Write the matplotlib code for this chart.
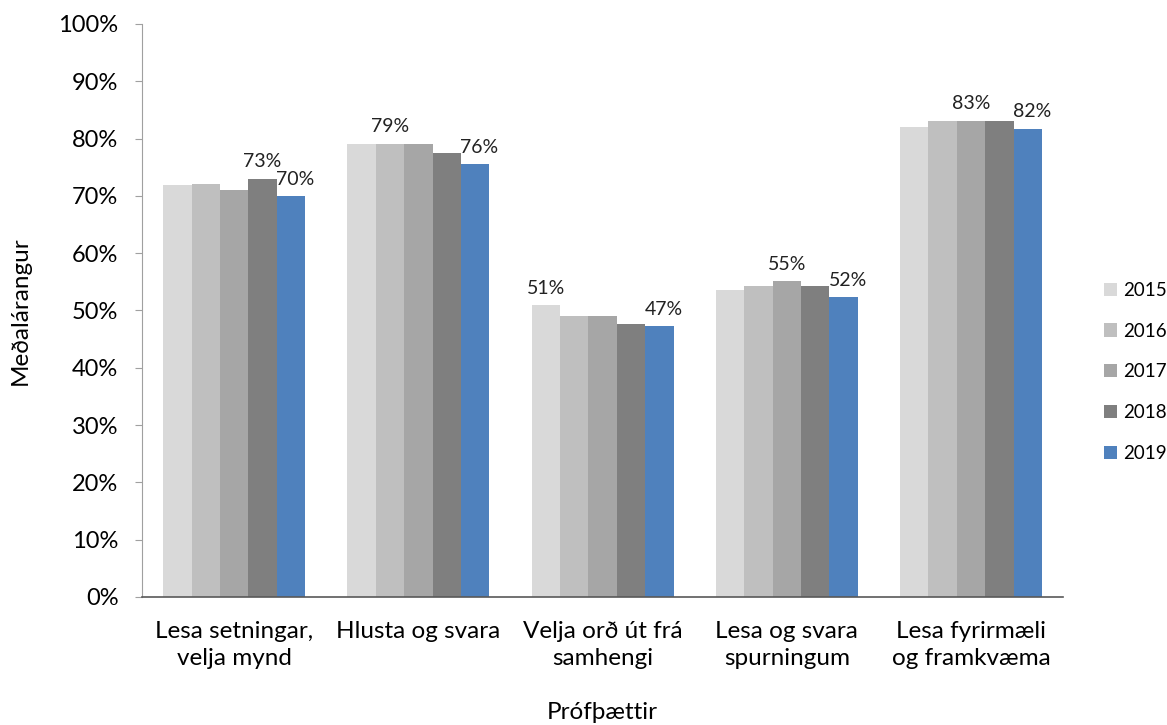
import matplotlib
matplotlib.use("Agg")
import matplotlib.pyplot as plt
import numpy as np
from matplotlib.ticker import PercentFormatter, MultipleLocator

plt.rcParams['font.family'] = ['Lato', 'DejaVu Sans']

# gögn lesin af myndinni
flokkar = ["Lesa setningar,\nvelja mynd", "Hlusta og svara", "Velja orð út frá\nsamhengi",
           "Lesa og svara\nspurningum", "Lesa fyrirmæli\nog framkvæma"]
ar = ["2015", "2016", "2017", "2018", "2019"]
v2015 = [71.9, 79.1, 50.9, 53.5, 82.0]
v2016 = [72.1, 79.1, 49.1, 54.2, 83.1]
v2017 = [71.0, 79.1, 49.1, 55.1, 83.1]
v2018 = [73.0, 77.5, 47.7, 54.2, 83.1]
v2019 = [70.0, 75.5, 47.2, 52.3, 81.7]
# (flokkur, ár) sem fá gildismerki
merki = [(0, 3), (0, 4), (1, 1), (1, 4), (2, 0), (2, 4), (3, 2), (3, 4), (4, 2), (4, 4)]

litir = ["#D9D9D9", "#BFBFBF", "#A6A6A6", "#7F7F7F", "#4F81BD"]
gildi = [v2015, v2016, v2017, v2018, v2019]

fig = plt.figure(figsize=(11.67, 7.25), dpi=100)
ax = fig.add_axes([0.1217, 0.1766, 0.911 - 0.1217, 0.967 - 0.1766])

x = np.arange(len(flokkar))
b = 0.154
stikur = []
for i, (vals, c) in enumerate(zip(gildi, litir)):
    st = ax.bar(x + (i - 2) * b, vals, b, color=c, label=ar[i])
    stikur.append(st)

for g, s in merki:
    r = stikur[s][g]
    ax.annotate(f"{gildi[s][g]:.0f}%", (r.get_x() + r.get_width() / 2, r.get_height()),
                xytext=(3 if s == 4 else 0, 6), textcoords="offset points",
                ha="center", va="bottom", fontsize=14, color="#222222")

ax.set_xlim(-0.5, 4.5)
ax.set_ylim(0, 100)
ax.yaxis.set_major_locator(MultipleLocator(10))
ax.yaxis.set_major_formatter(PercentFormatter(100, decimals=0))
ax.set_xticks(x)
ax.set_xticklabels(flokkar, fontsize=17.5, linespacing=1.35)
ax.tick_params(axis='x', length=0, pad=17)
ax.tick_params(axis='y', labelsize=17, length=5, color="#A0A0A0", pad=12)

for sp in ["top", "right"]:
    ax.spines[sp].set_visible(False)
ax.spines["left"].set_color("#A0A0A0")
ax.spines["bottom"].set_color("#595959")
ax.spines["bottom"].set_linewidth(1.2)

ax.set_ylabel("Meðalárangur", fontsize=17.5, labelpad=20)
ax.set_xlabel("Prófþættir", fontsize=17.5, labelpad=24)

fig.legend(*ax.get_legend_handles_labels(), loc="center left", bbox_to_anchor=(0.946, 0.487),
           frameon=False, fontsize=13.5, borderpad=0, borderaxespad=0,
           handlelength=0.7, handleheight=0.7, handletextpad=0.3, labelspacing=1.27)

fig.savefig("out.png", dpi=100)
